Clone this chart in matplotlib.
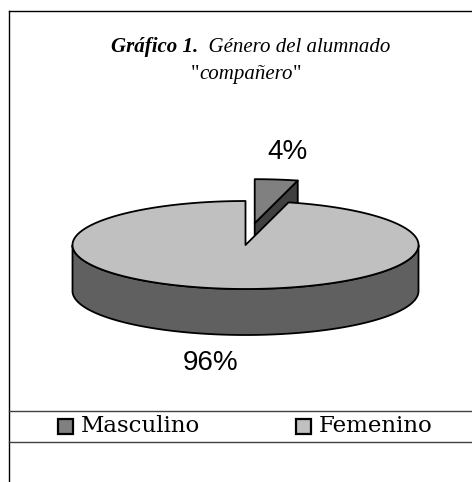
import numpy as np
import matplotlib
matplotlib.use("Agg")
import matplotlib.pyplot as plt
from matplotlib.patches import Polygon, Rectangle
from matplotlib.lines import Line2D

# ---- data ----
categories = ["Masculino", "Femenino"]
values = [4, 96]
top_colors = ["#808080", "#C0C0C0"]
side_colors = ["#404040", "#606060"]
explode = [0.5, 0.0]

W, H = 472, 482
fig = plt.figure(figsize=(W / 100, H / 100), dpi=100)
ax = fig.add_axes([0, 0, 1, 1])
ax.set_xlim(0, W)
ax.set_ylim(H, 0)
ax.axis("off")

# frame
ax.add_line(Line2D([8.5, 8.5], [10.5, H], color="black", lw=1.0))
ax.add_line(Line2D([8.5, W], [10.5, 10.5], color="black", lw=1.0))

# ---- 3D pie geometry ----
cx, cy = 245.5, 245.0
a, b = 173.0, 44.0
depth = 46.0
EC = "black"
LW = 1.3


def pt(theta_deg, dz=0.0, off=(0.0, 0.0)):
    t = np.radians(theta_deg)
    return (cx + off[0] + a * np.cos(t), cy + off[1] - b * np.sin(t) + dz)


total = float(sum(values))
slices = []
start = 90.0
for i, v in enumerate(values):
    end = start - 360.0 * v / total
    mid = np.radians((start + end) / 2)
    off = (explode[i] * a * np.cos(mid) * 0.85, -explode[i] * b * np.sin(mid))
    slices.append(dict(i=i, s=start, e=end, mid=mid, off=off))
    start = end

# back to front
slices.sort(key=lambda d: -np.sin(d["mid"]))

for d in slices:
    i, s, e, off = d["i"], d["s"], d["e"], d["off"]
    c_top = (cx + off[0], cy + off[1])
    c_bot = (c_top[0], c_top[1] + depth)
    # radial faces
    for ang, normal in ((s, s + 90), (e, e - 90)):
        if np.sin(np.radians(normal)) < -1e-6:
            r_top = pt(ang, 0, off)
            r_bot = pt(ang, depth, off)
            ax.add_patch(Polygon([c_top, r_top, r_bot, c_bot], closed=True,
                                 fc=side_colors[i], ec=EC, lw=LW, joinstyle="round"))
    # outer wall (front part)
    th = np.linspace(s, e, 720)
    vis = np.sin(np.radians(th)) <= 0
    if vis.any():
        idx = np.where(vis)[0]
        runs = np.split(idx, np.where(np.diff(idx) > 1)[0] + 1)
        for r in runs:
            tt = th[r]
            top = [pt(t, 0, off) for t in tt]
            bot = [pt(t, depth, off) for t in tt[::-1]]
            ax.add_patch(Polygon(top + bot, closed=True, fc=side_colors[i],
                                 ec=EC, lw=LW, joinstyle="round"))
    # top face
    arc = [pt(t, 0, off) for t in th]
    ax.add_patch(Polygon([c_top] + arc, closed=True, fc=top_colors[i],
                         ec=EC, lw=LW, joinstyle="round"))

# percentage labels
lab_pos = {0: (287, 152), 1: (211, 363)}
for i, v in enumerate(values):
    x, y = lab_pos[i]
    ax.text(x, y, f"{v}%", ha="center", va="center", fontsize=20,
            family="Liberation Sans", color="black")

# ---- title ----
renderer = fig.canvas.get_renderer()
serif = "Liberation Serif"
t1 = ax.text(0, 52, "Gráfico 1.", fontsize=15, family=serif, style="italic",
             weight="bold", ha="left", va="baseline")
t2 = ax.text(0, 52, "  Género del alumnado", fontsize=15, family=serif,
             style="italic", ha="left", va="baseline")
w1 = t1.get_window_extent(renderer).width
w2 = t2.get_window_extent(renderer).width
x0 = 251 - (w1 + w2) / 2
t1.set_x(x0)
t2.set_x(x0 + w1)

q1 = ax.text(0, 79, '"', fontsize=15, family=serif, ha="left", va="baseline")
q2 = ax.text(0, 79, "compañero", fontsize=15, family=serif, style="italic",
             ha="left", va="baseline")
q3 = ax.text(0, 79, '"', fontsize=15, family=serif, ha="left", va="baseline")
wq = q1.get_window_extent(renderer).width
ww = q2.get_window_extent(renderer).width
x0 = 246 - (2 * wq + ww) / 2
q1.set_x(x0)
q2.set_x(x0 + wq)
q3.set_x(x0 + wq + ww)

# ---- legend box ----
ax.add_line(Line2D([8.5, W], [410.5, 410.5], color="#404040", lw=1.0))
ax.add_line(Line2D([8.5, W], [441.5, 441.5], color="#404040", lw=1.0))
leg_x = [58, 296]
for i, cat in enumerate(categories):
    ax.add_patch(Rectangle((leg_x[i], 418.5), 15, 15, fc=top_colors[i],
                           ec="black", lw=1.6))
    ax.text(leg_x[i] + 23, 426, cat, fontsize=16.5, family="DejaVu Serif",
            ha="left", va="center")

fig.savefig("out.png", dpi=100)
